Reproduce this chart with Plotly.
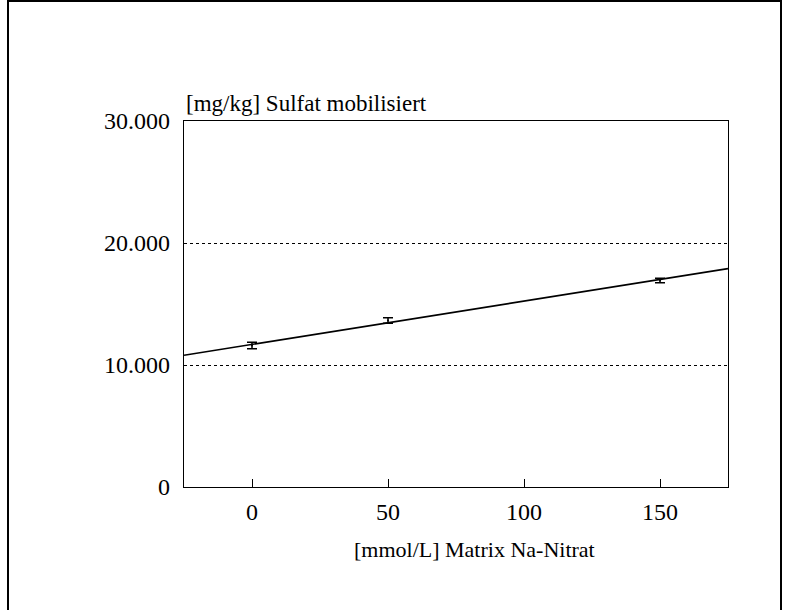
import plotly.graph_objects as go

# Data
conc = [0, 50, 150]                 # [mmol/L] Matrix Na-Nitrat
sulfat = [11600, 13650, 16930]      # [mg/kg] Sulfat mobilisiert
sulfat_err = [260, 230, 180]

fit_x = [-25, 175]
fit_y = [10800, 17900]

x_ticks = [0, 50, 100, 150]
y_ticks = [0, 10000, 20000, 30000]
y_ticklabels = ["0", "10.000", "20.000", "30.000"]

FONT = "Liberation Serif"

L, R, T, B = 184, 728, 121, 487
PW, PH = R - L, B - T

fig = go.Figure()

fig.add_trace(go.Scatter(
    x=fit_x, y=fit_y, mode="lines",
    line=dict(color="black", width=1.6),
    hoverinfo="skip", showlegend=False,
))

fig.add_trace(go.Scatter(
    x=conc, y=sulfat, mode="markers",
    marker=dict(size=2, color="black"),
    error_y=dict(type="data", array=sulfat_err, visible=True,
                 color="black", thickness=1.5, width=5),
    showlegend=False,
))

fig.update_layout(
    width=787, height=610,
    margin=dict(l=L, r=787 - R, t=T, b=610 - B),
    paper_bgcolor="white", plot_bgcolor="white",
    font=dict(family=FONT, color="black", size=20),
    xaxis=dict(
        range=[-25, 175], tickvals=x_ticks,
        showgrid=False, zeroline=False,
        showline=True, linecolor="black", linewidth=1.2, mirror=True,
        ticks="inside", ticklen=8, tickcolor="black", tickwidth=1,
        ticklabelstandoff=3,
        tickfont=dict(family=FONT, size=24, color="black"),
    ),
    yaxis=dict(
        range=[0, 30000], tickvals=y_ticks, ticktext=y_ticklabels,
        showgrid=True, gridcolor="black", gridwidth=1, griddash="dot",
        zeroline=False,
        showline=True, linecolor="black", linewidth=1.2, mirror=True,
        ticks="", ticklabelstandoff=8,
        tickfont=dict(family=FONT, size=24, color="black"),
    ),
    annotations=[
        dict(
            text="[mg/kg] Sulfat mobilisiert", xref="paper", yref="paper",
            x=0.0, y=1.0, xanchor="left", yanchor="bottom", yshift=3,
            showarrow=False, font=dict(family=FONT, size=23, color="black"),
        ),
        dict(
            text="[mmol/L] Matrix Na-Nitrat", xref="paper", yref="paper",
            x=(474 - L) / PW, y=0, xanchor="center", yanchor="middle",
            yshift=-(549 - B),
            showarrow=False, font=dict(family=FONT, size=22, color="black"),
        ),
    ],
    shapes=[dict(
        type="rect", xref="paper", yref="paper",
        x0=(8 - L) / PW, x1=(781 - L) / PW,
        y0=-0.4, y1=(B - 1) / PH,
        line=dict(color="black", width=2), fillcolor="rgba(0,0,0,0)",
        layer="below",
    )],
)

fig.write_html("out.html")
